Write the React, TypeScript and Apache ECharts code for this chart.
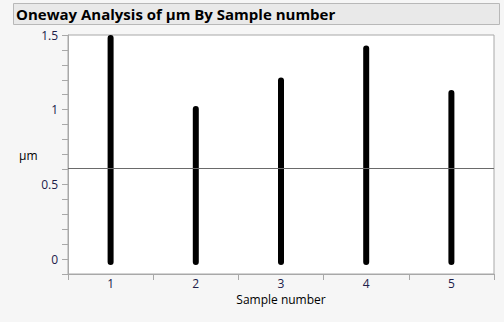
import React, { useEffect, useRef } from "react";
import * as echarts from "echarts";

const categories = ["1", "2", "3", "4", "5"];
const lowValues = [-0.02, -0.02, -0.02, -0.02, -0.02];
const highValues = [1.48, 1.005, 1.195, 1.41, 1.112];
const meanValue = 0.609;
const titleText = "Oneway Analysis of μm By Sample number";
const yName = "μm";
const xName = "Sample number";

const FONT = "'Open Sans', 'Noto Sans', sans-serif";

export default function App() {
  const ref = useRef<HTMLDivElement>(null);
  useEffect(() => {
    if (!ref.current) return;
    const chart = echarts.init(ref.current, null, { renderer: "svg" });
    const data = categories.map((c, i) => [i, lowValues[i], highValues[i]]);
    chart.setOption({
      animation: false,
      backgroundColor: "#f6f6f6",
      textStyle: { fontFamily: FONT },
      graphic: [
        {
          type: "rect",
          shape: { x: 13.5, y: 3.5, width: 486, height: 21 },
          style: { fill: "#e9e9e9", stroke: "#b8b8b8", lineWidth: 1 },
          z: 0,
        },
        {
          type: "text",
          x: 16,
          y: 14,
          style: {
            text: titleText,
            fill: "#000",
            font: `bold 15px ${FONT}`,
            verticalAlign: "middle",
          },
        },
        {
          type: "text",
          x: 19,
          y: 155,
          style: {
            text: yName,
            fill: "#000",
            font: `12px ${FONT}`,
            verticalAlign: "middle",
          },
        },
      ],
      grid: {
        left: 68,
        right: 10,
        top: 35,
        bottom: 48,
        show: true,
        backgroundColor: "#ffffff",
        borderColor: "#a8a8a8",
        borderWidth: 1,
      },
      xAxis: {
        type: "category",
        data: categories,
        boundaryGap: true,
        name: xName,
        nameLocation: "middle",
        nameGap: 19,
        nameTextStyle: { color: "#000", fontSize: 12, fontFamily: FONT },
        axisLine: { onZero: false, lineStyle: { color: "#a8a8a8" } },
        axisTick: { show: true, length: 6, lineStyle: { color: "#a8a8a8" } },
        axisLabel: { color: "#20204a", fontSize: 12, margin: 3, fontFamily: FONT },
        splitLine: { show: false },
      },
      yAxis: {
        type: "value",
        min: -0.1,
        max: 1.5,
        interval: 0.1,
        axisLine: { show: true, lineStyle: { color: "#a8a8a8" } },
        axisTick: { show: true, length: 6, lineStyle: { color: "#a8a8a8" } },
        axisLabel: {
          color: "#20204a",
          fontSize: 12,
          margin: 10,
          fontFamily: FONT,
          formatter: (v: number) => {
            const r = Math.round(v * 2) / 2;
            if (Math.abs(v - r) < 1e-6 && r >= 0) return String(r);
            return "";
          },
        },
        splitLine: { show: false },
      },
      series: [
        {
          type: "custom",
          data,
          renderItem: (params: any, api: any) => {
            const x = api.value(0);
            const p1 = api.coord([x, api.value(1)]);
            const p2 = api.coord([x, api.value(2)]);
            return {
              type: "line",
              shape: { x1: p1[0], y1: p1[1], x2: p2[0], y2: p2[1] },
              style: { stroke: "#000", lineWidth: 6, lineCap: "round" },
            };
          },
          markLine: {
            silent: true,
            symbol: ["none", "none"],
            label: { show: false },
            lineStyle: { color: "#6a6a6a", width: 1, type: "solid" },
            data: [{ yAxis: meanValue }],
          },
          z: 3,
        },
      ],
    });
    return () => chart.dispose();
  }, []);
  return (
    <div
      ref={ref}
      style={{ position: "fixed", left: 0, top: 0, width: 504, height: 322 }}
    />
  );
}
